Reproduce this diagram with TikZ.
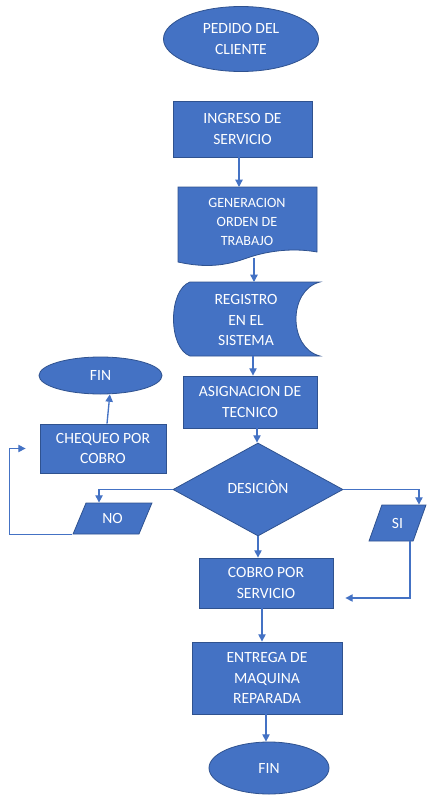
\documentclass[tikz,border=0pt]{standalone}
\usepackage{fontspec}
\setmainfont{Carlito}
\usetikzlibrary{shapes.geometric,arrows.meta}
\definecolor{azul}{HTML}{4472C4}
\definecolor{borde}{HTML}{2F528F}

\begin{document}
\begin{tikzpicture}[x=0.75pt,y=-0.75pt]
    \tikzstyle{every node}+=[text=white, align=center, font=\fontsize{11.7}{15.2}\selectfont]
    \tikzstyle{caja}=[draw=borde, fill=azul, line width=0.6pt, inner sep=0pt]
    \tikzstyle{flecha}=[azul, line width=1pt, -{Triangle[length=5.5pt,width=5.5pt]}]
    \useasboundingbox (0,0) rectangle (426,796);
    % bloques
    \node [caja, ellipse, minimum width=116.25pt, minimum height=48.75pt] (pedido) at (241,39) {PEDIDO DEL\\CLIENTE};
    \node [caja, minimum width=104.25pt, minimum height=42pt] (ingreso) at (242.5,129) {INGRESO DE\\SERVICIO};
    \draw [caja] (178,187) -- (317,187) -- (317,252) .. controls (295,248) and (270,250) .. (247,258) .. controls (225,266) and (205,268) .. (178,262) -- cycle;
    \node [font=\fontsize{10.6}{14.3}\selectfont] (orden) at (247,222) {GENERACION\\ORDEN DE\\TRABAJO};
    \coordinate (ordenN) at (239,187);
    \coordinate (ordenS) at (254,258);
    \draw [caja] (190,282) -- (320,282) .. controls (288,290) and (288,348) .. (320,356) -- (190,356) .. controls (168,348) and (168,290) .. (190,282) -- cycle;
    \node [font=\fontsize{11.7}{15.4}\selectfont] (registro) at (246,320) {REGISTRO\\EN EL\\SISTEMA};
    \coordinate (registroN) at (254,282);
    \coordinate (registroS) at (253,356);
    \node [caja, minimum width=100.5pt, minimum height=39pt] (asignacion) at (250,402) {ASIGNACION DE\\TECNICO};
    \node [caja, diamond, aspect=1.83, minimum width=127.5pt, minimum height=69.75pt] (decision) at (258,489.5) {\raisebox{4.5pt}{DESICIÒN}};
    \node [caja, ellipse, minimum width=92.25pt, minimum height=27.75pt] (finA) at (100.5,375.5) {FIN};
    \node [caja, minimum width=94.5pt, minimum height=36.75pt] (chequeo) at (103,448.5) {CHEQUEO POR\\COBRO};
    \node [caja, trapezium, trapezium left angle=64, trapezium right angle=116, trapezium stretches=true, minimum width=59.25pt, minimum height=23.25pt] (no) at (112.5,518.5) {NO};
    \node [caja, trapezium, trapezium left angle=66, trapezium right angle=114, trapezium stretches=true, minimum width=42.75pt, minimum height=27pt] (si) at (397.5,523) {SI};
    \node [caja, minimum width=100.5pt, minimum height=37.5pt] (cobro) at (266,583) {COBRO POR\\SERVICIO};
    \node [caja, minimum width=112.5pt, minimum height=54pt] (entrega) at (267,678) {ENTREGA DE\\MAQUINA\\REPARADA};
    \node [caja, ellipse, minimum width=90pt, minimum height=39pt] (finB) at (269,768) {FIN};
    % conectores
    \draw [flecha] (ingreso.south -| ordenN) -- (ordenN);
    \draw [flecha] (ordenS) -- (registroN);
    \draw [flecha] (registroS) -- (registroS |- asignacion.north);
    \draw [flecha] ([xshift=5.25pt]asignacion.south) -- ([xshift=5.25pt]asignacion.south |- decision.north);
    \draw [flecha] (decision.west) -| ([xshift=-10.1pt]no.north);
    \draw [flecha] (no.bottom left corner) -- ++(-63,0) |- ([xshift=-10.5pt]chequeo.west);
    \draw [flecha] ([xshift=3pt]chequeo.north) -- ([xshift=7pt]finA.south);
    \draw [flecha] (decision.east) -| ([xshift=16.1pt]si.north);
    \draw [flecha] (decision.south) -- (decision.south |- cobro.north);
    \draw [flecha] ([xshift=9.4pt]si.south) |- ([xshift=9pt,yshift=-11.25pt]cobro.east);
    \draw [flecha] ([xshift=-3pt]cobro.south) -- ([xshift=-3pt]cobro.south |- entrega.north);
    \draw [flecha] ([xshift=-0.75pt]entrega.south) -- ([xshift=-0.75pt]entrega.south |- finB.north);
\end{tikzpicture}
\end{document}
